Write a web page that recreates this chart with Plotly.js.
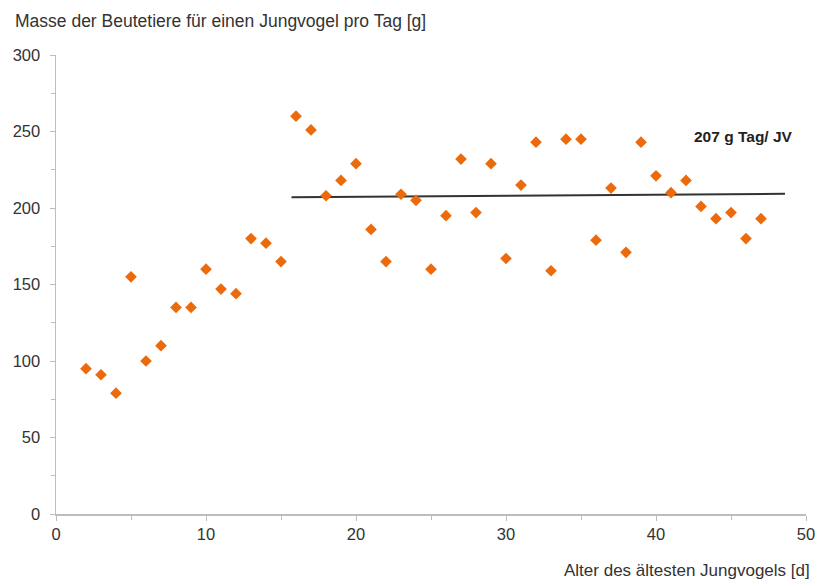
<!DOCTYPE html>
<html><head><meta charset="utf-8">
<script src="https://cdn.plot.ly/plotly-3.0.1.min.js"></script>
<style>body{margin:0;background:#fff}#c{width:818px;height:583px}</style>
</head><body><div id="c"></div>
<script>
var ages = [2,3,4,5,6,7,8,9,10,11,12,13,14,15,16,17,18,19,20,21,22,23,24,25,26,27,28,29,30,31,32,33,34,35,36,37,38,39,40,41,42,43,44,45,46,47];
var masses = [95,91,79,155,100,110,135,135,160,147,144,180,177,165,260,251,208,218,229,186,165,209,205,160,195,232,197,229,167,215,243,159,245,245,179,213,171,243,221,210,218,201,193,197,180,193];
var meanLineX = [15.7,48.6];
var meanLineY = [207,209.3];
var yTitle = "Masse der Beutetiere für einen Jungvogel pro Tag [g]";
var xTitle = "Alter des ältesten Jungvogels [d]";
var noteText = "<b>207 g Tag/ JV</b>";
var noteX = 45.8, noteY = 247;

var font = "Liberation Sans, Arial, sans-serif";
var traces = [
 {x: meanLineX, y: meanLineY, mode:'lines', line:{color:'#333333', width:2}, hoverinfo:'skip'},
 {x: ages, y: masses, mode:'markers', marker:{symbol:'diamond', size:9, color:'#EC6A0C'}}
];
var axisCommon = {showgrid:false, zeroline:false, showline:true, linecolor:'#bdbdbd', linewidth:1.5,
  ticks:'outside', ticklen:5, tickcolor:'#bdbdbd', tickwidth:1,
  tickfont:{family:font, size:16.5, color:'#333'}};
var layout = {
  width:818, height:583, showlegend:false,
  paper_bgcolor:'#fff', plot_bgcolor:'#fff',
  margin:{l:56, r:12, t:55, b:69},
  xaxis: Object.assign({}, axisCommon, {range:[0,50], dtick:10, tick0:0,
    minor:{dtick:5, ticks:'outside', ticklen:4, tickcolor:'#bdbdbd'}}),
  yaxis: Object.assign({}, axisCommon, {range:[0,300], dtick:50, tick0:0, ticklabelstandoff:6,
    minor:{dtick:25, ticks:'outside', ticklen:4, tickcolor:'#bdbdbd'}}),
  annotations:[
    {text:yTitle, xref:'paper', yref:'paper', x:-0.0567, y:1.075, xanchor:'left', yanchor:'middle', showarrow:false,
     font:{family:font, size:17.5, color:'#333'}},
    {text:xTitle, xref:'paper', yref:'paper', x:1.0085, y:-0.123, xanchor:'right', yanchor:'middle', showarrow:false,
     font:{family:font, size:17, color:'#333'}},
    {text:noteText, xref:'x', yref:'y', x:noteX, y:noteY, xanchor:'center', yanchor:'middle', showarrow:false,
     font:{family:font, size:15.5, color:'#222'}}
  ]
};
Plotly.newPlot('c', traces, layout, {displayModeBar:false, staticPlot:true});
</script></body></html>
